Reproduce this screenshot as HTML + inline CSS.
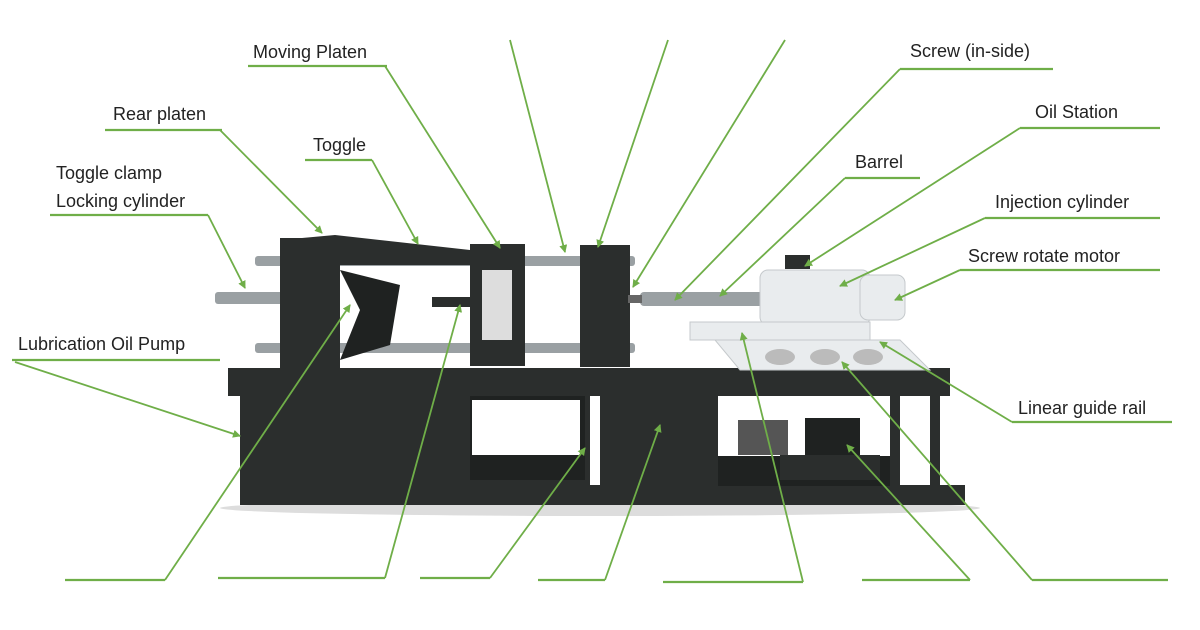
<!DOCTYPE html>
<html><head><meta charset="utf-8"><style>
html,body{margin:0;padding:0;background:#fff;width:1200px;height:630px;overflow:hidden}
svg{display:block}
text{font-family:"Liberation Sans",sans-serif;font-size:18px;fill:#222}
.l{stroke:#6fae48;stroke-width:1.8;fill:none}
.u{stroke:#6fae48;stroke-width:2.2;fill:none}
.d{fill:#2b2e2d}
.d2{fill:#1f2221}
.bar{fill:#9aa0a3}
.w{fill:#e9ecee;stroke:#c5c9cc;stroke-width:1}
</style></head><body>
<svg width="1200" height="630" viewBox="0 0 1200 630">
<defs><marker id="a" markerWidth="8" markerHeight="8" refX="7" refY="4" orient="auto" markerUnits="userSpaceOnUse"><path d="M0,0 L8,4 L0,8 z" fill="#6fae48"/></marker></defs>
<ellipse cx="600" cy="508" rx="380" ry="8" fill="#ddd"/>
<rect class="d" x="240" y="485" width="725" height="20"/>
<rect class="d" x="240" y="395" width="350" height="95"/>
<rect class="d" x="600" y="390" width="110" height="95"/>
<rect class="d2" x="470" y="395" width="115" height="85" />
<rect fill="#fff" x="472" y="400" width="108" height="55"/>
<rect class="d" x="228" y="368" width="722" height="28"/>
<rect class="d" x="710" y="396" width="8" height="90"/>
<rect class="d" x="890" y="396" width="10" height="90"/>
<rect class="d" x="930" y="396" width="10" height="90"/>
<rect fill="#fff" x="718" y="396" width="172" height="60"/>
<rect class="d2" x="718" y="456" width="172" height="30"/>
<rect fill="#fff" x="900" y="396" width="30" height="70"/>
<rect class="d2" x="805" y="418" width="55" height="42"/>
<rect fill="#555" x="738" y="420" width="50" height="35"/>
<rect class="d" x="780" y="455" width="100" height="25"/>
<rect class="bar" x="255" y="256" width="380" height="10" rx="3"/>
<rect class="bar" x="255" y="343" width="380" height="10" rx="3"/>
<rect class="bar" x="215" y="292" width="70" height="12" rx="3"/>
<polygon class="d" points="280,240 335,235 470,250 470,265 340,265"/>
<rect class="d" x="280" y="238" width="60" height="132"/>
<polygon class="d2" points="340,270 400,285 390,345 340,360 360,310"/>
<rect class="d" x="470" y="244" width="55" height="122"/>
<rect fill="#ddd" x="482" y="270" width="30" height="70"/>
<rect class="d" x="432" y="297" width="45" height="10"/>
<rect class="d" x="580" y="245" width="50" height="122"/>
<rect class="bar" x="640" y="292" width="130" height="14" rx="4"/>
<rect fill="#666" x="628" y="295" width="14" height="8"/>
<rect class="w" x="760" y="270" width="110" height="55" rx="8"/>
<rect class="w" x="860" y="275" width="45" height="45" rx="8"/>
<rect class="w" x="690" y="322" width="180" height="18"/>
<polygon class="w" points="715,340 900,340 930,370 740,370"/>
<ellipse cx="780" cy="357" rx="15" ry="8" fill="#bbb"/>
<ellipse cx="825" cy="357" rx="15" ry="8" fill="#bbb"/>
<ellipse cx="868" cy="357" rx="15" ry="8" fill="#bbb"/>
<rect class="d" x="785" y="255" width="25" height="14"/>
<text x="253" y="58">Moving Platen</text>
<text x="113" y="120">Rear platen</text>
<text x="313" y="151">Toggle</text>
<text x="56" y="179">Toggle clamp</text>
<text x="56" y="207">Locking cylinder</text>
<text x="18" y="350">Lubrication Oil Pump</text>
<text x="910" y="57">Screw (in-side)</text>
<text x="1035" y="118">Oil Station</text>
<text x="855" y="168">Barrel</text>
<text x="995" y="208">Injection cylinder</text>
<text x="968" y="262">Screw rotate motor</text>
<text x="1018" y="414">Linear guide rail</text>
<path class="u" d="M248,66H387M105,130H222M305,160H372M50,215H208M12,360H220M900,69H1053M1020,128H1160M845,178H920M985,218H1160M960,270H1160M1012,422H1172M65,580H165M218,578H385M420,578H490M538,580H605M663,582H803M862,580H970M1032,580H1168"/>
<g class="l" marker-end="url(#a)">
<path d="M385,66L500,248"/>
<path d="M510,40L565,252"/>
<path d="M668,40L598,247"/>
<path d="M785,40L633,287"/>
<path d="M900,69L675,300"/>
<path d="M1020,128L805,266"/>
<path d="M845,178L720,296"/>
<path d="M985,218L840,286"/>
<path d="M960,270L895,300"/>
<path d="M1012,422L880,342"/>
<path d="M220,130L322,233"/>
<path d="M372,160L418,244"/>
<path d="M208,215L245,288"/>
<path d="M15,362L240,436"/>
<path d="M165,580L350,305"/>
<path d="M385,578L460,305"/>
<path d="M490,578L585,448"/>
<path d="M605,580L660,425"/>
<path d="M803,582L742,333"/>
<path d="M970,580L847,445"/>
<path d="M1032,580L842,362"/>
</g>
</svg>
</body></html>
